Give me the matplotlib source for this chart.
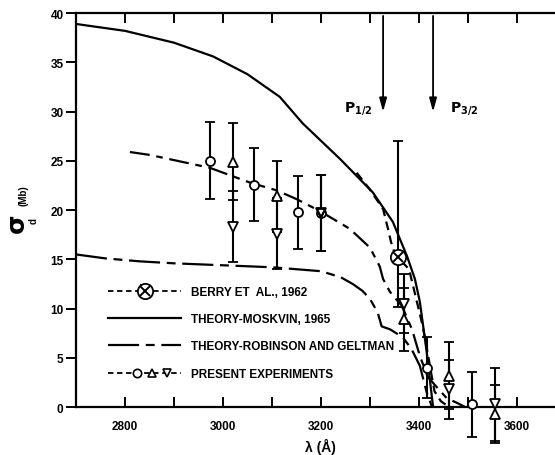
import numpy as np
import matplotlib
matplotlib.use("Agg")
import matplotlib.pyplot as plt
from matplotlib.lines import Line2D
from matplotlib.legend_handler import HandlerTuple

plt.rcParams["font.family"] = ["Liberation Sans", "DejaVu Sans"]
plt.rcParams["font.weight"] = "bold"

# theory curves (wavelength in Angstrom, cross section in Mb)
mosk_x = [2700, 2800, 2900, 2980, 3050, 3116, 3163, 3239, 3306, 3347, 3376, 3392, 3402, 3416, 3429]
mosk_y = [38.9, 38.2, 37.0, 35.6, 33.8, 31.5, 28.8, 25.2, 21.8, 18.8, 15.3, 13.0, 10.7, 5.6, 0.0]

rob_x = [2700, 2760, 2830, 2900, 3000, 3100, 3200, 3240, 3265, 3285, 3300, 3316, 3324, 3341, 3367, 3385, 3402, 3416, 3427]
rob_y = [15.5, 15.1, 14.8, 14.6, 14.4, 14.2, 13.8, 13.2, 12.5, 11.8, 11.0, 9.6, 8.2, 7.9, 7.1, 5.9, 4.2, 1.5, 0.0]

berry_x = [3273, 3300, 3327, 3337, 3343, 3350, 3357, 3380, 3396, 3408, 3418, 3425, 3432, 3445, 3462]
berry_y = [23.8, 22.1, 20.1, 18.1, 16.8, 15.7, 15.2, 14.0, 10.7, 8.2, 5.5, 3.5, 1.6, 0.6, 0.0]

exp_x = [2810, 2851, 2973, 3055, 3110, 3151, 3198, 3259, 3300, 3320, 3327, 3341, 3365, 3386, 3402, 3418, 3437, 3457, 3475, 3495]
exp_y = [25.9, 25.6, 24.3, 22.8, 22.0, 21.1, 19.9, 18.1, 16.2, 14.3, 13.0, 11.7, 10.3, 7.9, 5.2, 3.1, 2.0, 0.9, 0.5, 0.0]

# Berry et al. point
berry_pt_x = [3357]
berry_pt_y = [15.2]
berry_err = [[5.0], [11.8]]

# present experiments
circ_x = [2973, 3063, 3153, 3200, 3416, 3508]
circ_y = [25.0, 22.6, 19.8, 19.7, 4.0, 0.3]
circ_err = [3.9, 3.7, 3.7, 3.9, 3.1, 3.3]

up_x = [3020, 3110, 3369, 3461, 3555]
up_y = [24.9, 21.4, 8.9, 3.2, -0.7]
up_err = [3.9, 3.6, 3.2, 3.4, 2.9]

dn_x = [3020, 3110, 3200, 3369, 3461, 3555]
dn_y = [18.3, 17.6, 19.7, 10.5, 1.8, 0.3]
dn_err = [3.6, 3.6, 3.9, 3.0, 3.0, 3.7]

fig = plt.figure(figsize=(5.55, 4.56), dpi=100)
ax = fig.add_axes([0.137, 0.105, 0.863, 0.864])

lw = 1.6
l_mosk, = ax.plot(mosk_x, mosk_y, color="black", lw=lw)
l_rob, = ax.plot(rob_x, rob_y, color="black", lw=lw, ls=(0, (14, 3, 4, 3)))
l_berry, = ax.plot(berry_x, berry_y, color="black", lw=lw, ls=(0, (4, 2.5)))
l_exp, = ax.plot(exp_x, exp_y, color="black", lw=lw, ls=(0, (9, 3, 3, 3)))

eb_kw = dict(ls="none", color="black", ecolor="black", elinewidth=1.5, capsize=3.5,
             capthick=1.5, mfc="white", mec="black", mew=1.3, ms=6.5, clip_on=False, zorder=3)
ax.errorbar(circ_x, circ_y, yerr=circ_err, marker="o", **eb_kw)
ax.errorbar(up_x, up_y, yerr=up_err, marker="^", **eb_kw)
ax.errorbar(dn_x, dn_y, yerr=dn_err, marker="v", **eb_kw)
ax.plot(circ_x[3:4], circ_y[3:4], ls="none", marker="v", ms=6, mfc="none", mec="black", mew=1.3, zorder=4)

eb_berry = ax.errorbar(berry_pt_x, berry_pt_y, yerr=berry_err, marker="o",
                       **{**eb_kw, "ms": 11})
x_berry, = ax.plot(berry_pt_x, berry_pt_y, ls="none", marker="x", ms=6.5, mew=1.4,
                   color="black", zorder=4)

# level arrows
for xa, lab, dx, ha in [(3327, r"$\mathbf{P_{1/2}}$", -8, "right"), (3429, r"$\mathbf{P_{3/2}}$", 12, "left")]:
    ax.annotate("", xy=(xa, 29.7), xytext=(xa, 40),
                arrowprops=dict(arrowstyle="-|>,head_length=0.8,head_width=0.22", color="black", lw=1.3))
    ax.annotate(lab, xy=(xa, 30.4), xytext=(dx, 0), textcoords="offset points",
                ha=ha, va="center", fontsize=10)


class ExpHandler:
    def legend_artist(self, legend, orig_handle, fontsize, handlebox):
        x0, y0 = handlebox.xdescent, handlebox.ydescent
        w, h = handlebox.width, handlebox.height
        ln = Line2D([x0, x0 + w], [y0 + h / 2] * 2, color="black", lw=1.3, ls=(0, (3, 2)))
        handlebox.add_artist(ln)
        for frac, m in zip([0.4, 0.6, 0.8], ["o", "^", "v"]):
            handlebox.add_artist(Line2D([x0 + frac * w], [y0 + h / 2], ls="none", marker=m, ms=6,
                                        mfc="white", mec="black", mew=1.2))
        return ln


l_berry_leg = Line2D([], [], color="black", lw=1.3, ls=(0, (3, 2)))
l_exp_leg = Line2D([], [], color="black")
ax.legend([(l_berry_leg, eb_berry, x_berry), l_mosk, l_rob, l_exp_leg],
          ["BERRY ET  AL., 1962", "THEORY-MOSKVIN, 1965", "THEORY-ROBINSON AND GELTMAN",
           "PRESENT EXPERIMENTS"],
          handler_map={tuple: HandlerTuple(ndivide=1), l_exp_leg: ExpHandler()},
          loc="upper left", bbox_to_anchor=(0.045, 0.335), frameon=False, numpoints=1,
          handlelength=6.2, handletextpad=0.8, labelspacing=1.3, fontsize=8.5)

ax.set_xlim(2700, 3678)
ax.set_ylim(0, 40)
ax.set_xticks([2800, 3000, 3200, 3400, 3600])
ax.set_xticks(np.arange(2800, 3700, 100), minor=True)
ax.set_yticks(np.arange(0, 41, 5))
ax.spines["right"].set_visible(False)
for s in ["left", "bottom", "top"]:
    ax.spines[s].set_linewidth(1.6)
ax.tick_params(axis="x", which="both", direction="in", top=True, length=7, width=1.4,
               labelsize=8.5, pad=9)
ax.tick_params(axis="y", direction="out", length=7, width=1.4, labelsize=8.5, pad=2)

ax.text(0.51, -0.078, "λ (Å)", transform=ax.transAxes, ha="center", va="top", fontsize=10)
ax.text(-0.123, 0.47, "σ", transform=ax.transAxes, rotation=90, ha="center", va="center",
        fontsize=18, family="DejaVu Sans")
ax.text(-0.088, 0.475, "d", transform=ax.transAxes, rotation=90, ha="center", va="center", fontsize=7)
ax.text(-0.109, 0.54, "(Mb)", transform=ax.transAxes, rotation=90, ha="center", va="center", fontsize=7)

plt.savefig("out.png", dpi=100)
